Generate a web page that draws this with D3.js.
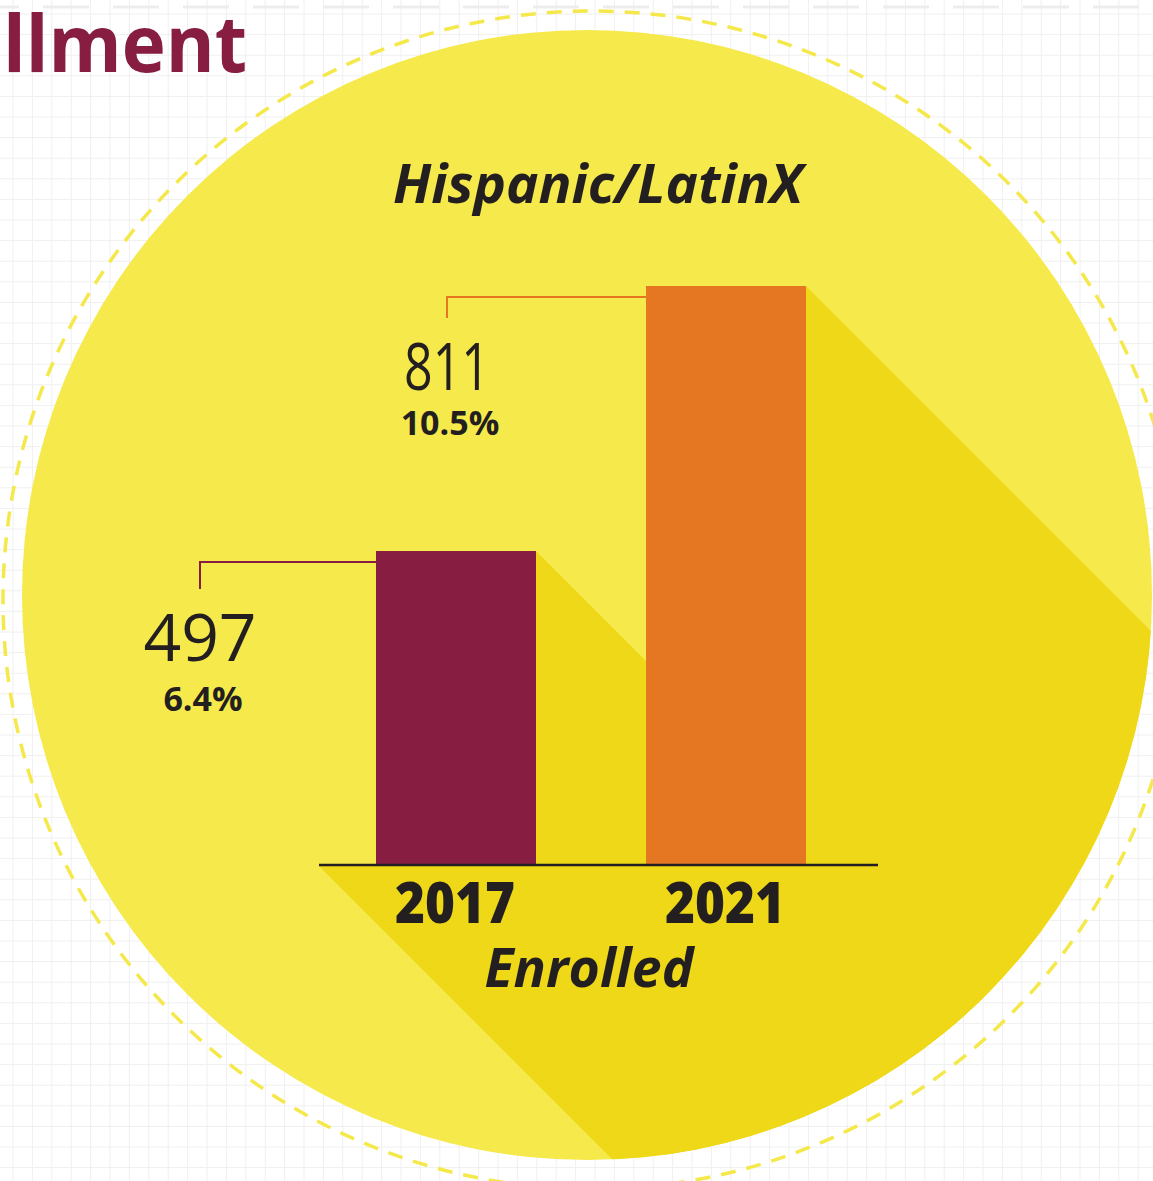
<!DOCTYPE html>
<html><head><meta charset="utf-8">
<script src="https://cdn.jsdelivr.net/npm/d3@7"></script>
<style>html,body{margin:0;padding:0;background:#fff;overflow:hidden}</style>
</head><body><svg id="c" width="1153" height="1181"></svg>
<script>
// ---- data ----
const categories = ["2017", "2021"];
const enrolled = [497, 811];
const shares = ["6.4%", "10.5%"];
const barColors = ["#871d41", "#e67722"];
const chartTitle = "Hispanic/LatinX";
const axisTitle = "Enrolled";
const headerFragment = "llment";

// ---- layout constants ----
const W = 1153, H = 1181;
const calloutDx = [-176, -199];   // stub x relative to bar left
const calloutDrop = [27, 21];
const valueDy = [99, 93];          // value baseline below stub start
const shareDy = [149, 138];
const svg = d3.select("#c");
const FONT = "'Open Sans', Lato, sans-serif";

// background grid
const grid = svg.append("g");
grid.selectAll("line.v").data(d3.range(13, W, 19.4)).join("line")
  .attr("x1", d => d).attr("x2", d => d).attr("y1", 0).attr("y2", H)
  .attr("stroke", "#f0f0f0").attr("stroke-width", 1);
grid.selectAll("line.h").data(d3.range(14, H, 20.6)).join("line")
  .attr("y1", d => d).attr("y2", d => d).attr("x1", 0).attr("x2", W)
  .attr("stroke", "#f0f0f0").attr("stroke-width", 1);
grid.selectAll("line.t").data(d3.range(-27, W, 70)).join("line")
  .attr("x1", d => d).attr("x2", d => d + 46).attr("y1", 7).attr("y2", 7)
  .attr("stroke", "#ededed").attr("stroke-width", 3);

// circles
svg.append("circle").attr("cx", 592).attr("cy", 600).attr("r", 589)
  .attr("fill", "none").attr("stroke", "#f5e84b").attr("stroke-width", 3.5)
  .attr("stroke-dasharray", "15 11");
const CX = 587, CY = 595, R = 565;
svg.append("circle").attr("cx", CX).attr("cy", CY).attr("r", R).attr("fill", "#f6e94b");
svg.append("clipPath").attr("id", "cc").append("circle")
  .attr("cx", CX).attr("cy", CY).attr("r", R);

// scales
const x = d3.scaleBand().domain(categories).range([376, 806]).paddingInner(110 / 270).paddingOuter(0);
const y = d3.scaleLinear().domain([125, 811]).range([865, 286]);
const axisL = x.range()[0] - 57, axisR = x.range()[1] + 72, axisY = y.range()[0];

// long shadow
const L = 1400;
const sh = svg.append("g").attr("clip-path", "url(#cc)");
function ext(x0, y0, x1, y1) {
  return [[x0, y0], [x1, y0], [x1 + L, y0 + L], [x1 + L, y1 + L], [x0 + L, y1 + L], [x0, y1]];
}
const polys = categories.map((c, i) => ext(x(c), y(enrolled[i]), x(c) + x.bandwidth(), axisY));
polys.push(ext(axisL, axisY, axisR, axisY + 1));
sh.selectAll("path").data(polys).join("path")
  .attr("d", d => "M" + d.join("L") + "Z").attr("fill", "#eed817");

// bars
svg.selectAll("rect.bar").data(categories).join("rect")
  .attr("x", d => x(d)).attr("width", x.bandwidth())
  .attr("y", (d, i) => y(enrolled[i])).attr("height", (d, i) => axisY - y(enrolled[i]))
  .attr("fill", (d, i) => barColors[i]);

// axis line
svg.append("line").attr("x1", axisL).attr("x2", axisR).attr("y1", axisY).attr("y2", axisY)
  .attr("stroke", "#231f20").attr("stroke-width", 2.5);

// fit a text to a target width by adjusting font size
function fit(sel, w) {
  const cur = sel.node().getComputedTextLength();
  const fs = parseFloat(sel.attr("font-size"));
  sel.attr("font-size", fs * w / cur);
  return sel;
}

// callouts
const valueW = [115, 86], shareW = [83, 95];
categories.forEach((c, i) => {
  const top = y(enrolled[i]) + 11;
  const sx = x(c) + calloutDx[i];
  svg.append("path")
    .attr("d", `M${x(c)},${top}H${sx}V${top + calloutDrop[i]}`)
    .attr("fill", "none").attr("stroke", barColors[i]).attr("stroke-width", 2);
  const v = svg.append("text").attr("x", sx).attr("y", top + valueDy[i])
    .attr("text-anchor", "middle").attr("font-family", FONT).attr("font-weight", 400)
    .attr("font-size", 66).attr("fill", "#231f20").text(d3.format("d")(enrolled[i]));
  if (i === 1) v.attr("textLength", valueW[i]).attr("lengthAdjust", "spacingAndGlyphs");
  svg.append("text").attr("x", sx + 3).attr("y", top + shareDy[i])
    .attr("text-anchor", "middle").attr("font-family", FONT).attr("font-weight", 700)
    .attr("font-size", 34).attr("fill", "#231f20").text(shares[i]);
});

// category labels
svg.selectAll("text.cat").data(categories).join("text")
  .attr("x", d => x(d) + x.bandwidth() / 2 - 1).attr("y", 923)
  .attr("text-anchor", "middle").attr("font-family", FONT).attr("font-weight", 800)
  .attr("font-size", 56).attr("fill", "#231f20").text(d => d)
  .attr("textLength", 120).attr("lengthAdjust", "spacingAndGlyphs");

svg.append("text").attr("x", 589).attr("y", 987).attr("text-anchor", "middle")
  .attr("font-family", FONT).attr("font-weight", 700).attr("font-style", "italic")
  .attr("font-size", 54).attr("fill", "#231f20").text(axisTitle)
  .attr("textLength", 209).attr("lengthAdjust", "spacingAndGlyphs");

svg.append("text").attr("x", 598).attr("y", 203).attr("text-anchor", "middle")
  .attr("font-family", FONT).attr("font-weight", 700).attr("font-style", "italic")
  .attr("font-size", 53).attr("fill", "#231f20").text(chartTitle)
  .attr("textLength", 410).attr("lengthAdjust", "spacingAndGlyphs");

svg.append("text").attr("x", 3).attr("y", 72)
  .attr("font-family", FONT).attr("font-weight", 700)
  .attr("font-size", 78).attr("fill", "#871d41").text(headerFragment)
  .attr("textLength", 244).attr("lengthAdjust", "spacingAndGlyphs");
</script></body></html>
